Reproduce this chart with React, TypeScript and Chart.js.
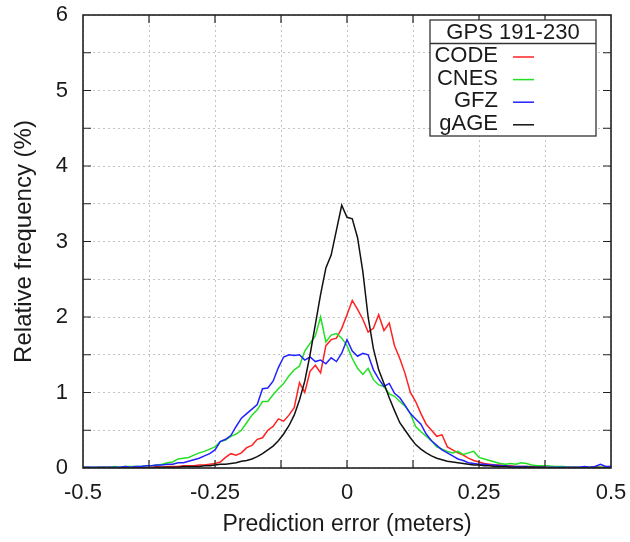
import React, { useEffect, useRef } from 'react';
import { Chart, registerables } from 'chart.js';

Chart.register(...registerables);

// Prediction error bin centres (meters)
const errorBins = [
  -0.50, -0.49, -0.48, -0.47, -0.46, -0.45, -0.44, -0.43, -0.42, -0.41,
  -0.40, -0.39, -0.38, -0.37, -0.36, -0.35, -0.34, -0.33, -0.32, -0.31,
  -0.30, -0.29, -0.28, -0.27, -0.26, -0.25, -0.24, -0.23, -0.22, -0.21,
  -0.20, -0.19, -0.18, -0.17, -0.16, -0.15, -0.14, -0.13, -0.12, -0.11,
  -0.10, -0.09, -0.08, -0.07, -0.06, -0.05, -0.04, -0.03, -0.02, -0.01,
  0.00, 0.01, 0.02, 0.03, 0.04, 0.05, 0.06, 0.07, 0.08, 0.09,
  0.10, 0.11, 0.12, 0.13, 0.14, 0.15, 0.16, 0.17, 0.18, 0.19,
  0.20, 0.21, 0.22, 0.23, 0.24, 0.25, 0.26, 0.27, 0.28, 0.29,
  0.30, 0.31, 0.32, 0.33, 0.34, 0.35, 0.36, 0.37, 0.38, 0.39,
  0.40, 0.41, 0.42, 0.43, 0.44, 0.45, 0.46, 0.47, 0.48, 0.49, 0.50,
];

const codeFreq = [
  0.01, 0.01, 0.00, 0.01, 0.01, 0.01, 0.00, 0.01, 0.01, 0.01,
  0.01, 0.01, 0.01, 0.01, 0.02, 0.01, 0.02, 0.02, 0.02, 0.03,
  0.03, 0.03, 0.04, 0.04, 0.05, 0.06, 0.08, 0.14, 0.19, 0.17,
  0.20, 0.27, 0.30, 0.38, 0.40, 0.50, 0.55, 0.65, 0.62, 0.70,
  0.80, 1.13, 1.00, 1.28, 1.36, 1.26, 1.62, 1.70, 1.72, 1.85,
  2.03, 2.22, 2.10, 1.97, 1.80, 1.85, 2.03, 1.82, 1.92, 1.62,
  1.45, 1.25, 1.00, 0.88, 0.72, 0.58, 0.50, 0.42, 0.44, 0.28,
  0.24, 0.20, 0.17, 0.13, 0.10, 0.08, 0.06, 0.05, 0.04, 0.04,
  0.03, 0.03, 0.02, 0.02, 0.02, 0.02, 0.01, 0.01, 0.01, 0.02,
  0.01, 0.01, 0.01, 0.01, 0.01, 0.01, 0.01, 0.02, 0.01, 0.01, 0.02,
];

const cnesFreq = [
  0.01, 0.01, 0.01, 0.01, 0.01, 0.01, 0.02, 0.01, 0.02, 0.02,
  0.02, 0.02, 0.03, 0.03, 0.04, 0.05, 0.07, 0.08, 0.12, 0.13,
  0.14, 0.17, 0.20, 0.22, 0.25, 0.28, 0.35, 0.37, 0.42, 0.45,
  0.50, 0.60, 0.70, 0.77, 0.88, 0.88, 0.97, 1.05, 1.12, 1.22,
  1.30, 1.35, 1.55, 1.65, 1.75, 2.00, 1.67, 1.76, 1.78, 1.72,
  1.62, 1.45, 1.32, 1.24, 1.32, 1.17, 1.10, 1.08, 0.98, 0.95,
  0.88, 0.82, 0.72, 0.55, 0.48, 0.42, 0.36, 0.28, 0.25, 0.22,
  0.20, 0.22, 0.18, 0.20, 0.22, 0.14, 0.12, 0.10, 0.08, 0.06,
  0.05, 0.06, 0.05, 0.07, 0.06, 0.04, 0.03, 0.03, 0.03, 0.02,
  0.02, 0.02, 0.01, 0.01, 0.01, 0.01, 0.01, 0.01, 0.01, 0.01, 0.01,
];

const gfzFreq = [
  0.01, 0.01, 0.01, 0.01, 0.01, 0.01, 0.01, 0.01, 0.02, 0.01,
  0.02, 0.02, 0.03, 0.03, 0.04, 0.04, 0.05, 0.05, 0.07, 0.07,
  0.09, 0.11, 0.13, 0.16, 0.19, 0.24, 0.35, 0.38, 0.43, 0.55,
  0.66, 0.72, 0.78, 0.84, 1.05, 1.06, 1.15, 1.33, 1.47, 1.50,
  1.49, 1.50, 1.43, 1.47, 1.41, 1.43, 1.38, 1.46, 1.41, 1.52,
  1.70, 1.55, 1.48, 1.52, 1.50, 1.30, 1.18, 1.08, 1.12, 0.99,
  0.93, 0.83, 0.72, 0.65, 0.58, 0.45, 0.36, 0.30, 0.24, 0.20,
  0.16, 0.12, 0.10, 0.07, 0.06, 0.05, 0.05, 0.04, 0.04, 0.03,
  0.03, 0.02, 0.02, 0.02, 0.02, 0.01, 0.01, 0.01, 0.01, 0.01,
  0.01, 0.01, 0.01, 0.01, 0.01, 0.02, 0.01, 0.02, 0.05, 0.02, 0.02,
];

const gageFreq = [
  0.00, 0.00, 0.00, 0.00, 0.00, 0.00, 0.00, 0.00, 0.00, 0.00,
  0.00, 0.00, 0.00, 0.00, 0.01, 0.01, 0.01, 0.01, 0.01, 0.02,
  0.02, 0.02, 0.02, 0.03, 0.03, 0.04, 0.05, 0.05, 0.06, 0.07,
  0.09, 0.10, 0.12, 0.15, 0.19, 0.24, 0.29, 0.36, 0.45, 0.56,
  0.70, 0.90, 1.15, 1.50, 1.90, 2.30, 2.65, 2.82, 3.15, 3.48,
  3.32, 3.30, 3.05, 2.60, 2.00, 1.58, 1.30, 1.12, 0.93, 0.76,
  0.60, 0.50, 0.40, 0.31, 0.25, 0.20, 0.16, 0.13, 0.11, 0.09,
  0.08, 0.07, 0.06, 0.05, 0.04, 0.04, 0.03, 0.03, 0.02, 0.02,
  0.02, 0.01, 0.01, 0.01, 0.01, 0.01, 0.01, 0.01, 0.00, 0.00,
  0.00, 0.00, 0.00, 0.00, 0.00, 0.00, 0.00, 0.00, 0.00, 0.00, 0.00,
];

const seriesNames = ['CODE', 'CNES', 'GFZ', 'gAGE'];
const seriesColors = ['#ff2222', '#22e022', '#2222ff', '#111111'];
const seriesValues = [codeFreq, cnesFreq, gfzFreq, gageFreq];
const legendTitle = 'GPS 191-230';
const xAxisTitle = 'Prediction error (meters)';
const yAxisTitle = 'Relative frequency (%)';

const FONT = '"Liberation Sans", Arial, Helvetica, sans-serif';
const TEXT = '#1a1a1a';

const noEdgePadding = (s: any) => {
  s.paddingTop = 0;
  s.paddingBottom = 0;
  s.paddingLeft = 0;
  s.paddingRight = 0;
};

const framePlugin = {
  id: 'frameAndLegend',
  afterDraw(chart: any) {
    const { ctx, chartArea: a, scales } = chart;
    const xs = scales.x;
    const ys = scales.y;
    ctx.save();
    // inward ticks on all four sides
    ctx.strokeStyle = '#222';
    ctx.lineWidth = 1.2;
    const tl = 8;
    ctx.beginPath();
    xs.ticks.forEach((t: any) => {
      const px = xs.getPixelForValue(t.value);
      if (px <= a.left + 1 || px >= a.right - 1) return;
      ctx.moveTo(px, a.bottom);
      ctx.lineTo(px, a.bottom - tl);
      ctx.moveTo(px, a.top);
      ctx.lineTo(px, a.top + tl);
    });
    ys.ticks.forEach((t: any) => {
      const py = ys.getPixelForValue(t.value);
      if (py <= a.top + 1 || py >= a.bottom - 1) return;
      ctx.moveTo(a.left, py);
      ctx.lineTo(a.left + tl, py);
      ctx.moveTo(a.right, py);
      ctx.lineTo(a.right - tl, py);
    });
    ctx.stroke();
    // frame
    ctx.lineWidth = 1.6;
    ctx.strokeStyle = '#222';
    ctx.strokeRect(a.left, a.top, a.right - a.left, a.bottom - a.top);

    // legend box
    const bl = a.left + 347;
    const br = a.right - 15;
    const bt = a.top + 5;
    const bb = a.top + 121;
    ctx.fillStyle = '#ffffff';
    ctx.fillRect(bl, bt, br - bl, bb - bt);
    ctx.lineWidth = 1.3;
    ctx.strokeStyle = '#333';
    ctx.strokeRect(bl, bt, br - bl, bb - bt);
    const sep = a.top + 28.5;
    ctx.beginPath();
    ctx.moveTo(bl, sep);
    ctx.lineTo(br, sep);
    ctx.stroke();
    ctx.fillStyle = TEXT;
    ctx.font = `22px ${FONT}`;
    ctx.textBaseline = 'middle';
    ctx.textAlign = 'center';
    ctx.fillText(legendTitle, (bl + br) / 2, a.top + 18);
    ctx.textAlign = 'right';
    seriesNames.forEach((name, i) => {
      const cy = a.top + 41 + i * 22.6;
      ctx.fillStyle = TEXT;
      ctx.fillText(name, bl + 68, cy);
      ctx.strokeStyle = seriesColors[i];
      ctx.lineWidth = 1.5;
      ctx.beginPath();
      ctx.moveTo(bl + 83, cy + 1);
      ctx.lineTo(bl + 104, cy + 1);
      ctx.stroke();
    });
    ctx.restore();
  },
};

export default function App() {
  const canvasRef = useRef<HTMLCanvasElement | null>(null);

  useEffect(() => {
    if (!canvasRef.current) return;
    const datasets = seriesNames.map((name, i) => ({
      label: name,
      data: errorBins.map((x, j) => ({ x, y: seriesValues[i][j] })),
      borderColor: seriesColors[i],
      backgroundColor: seriesColors[i],
      borderWidth: 1.5,
      pointRadius: 0,
      tension: 0,
      fill: false,
      order: seriesNames.length - i,
    }));

    const chart = new Chart(canvasRef.current, {
      type: 'line',
      data: { datasets },
      plugins: [framePlugin],
      options: {
        animation: false,
        responsive: false,
        maintainAspectRatio: false,
        layout: { padding: { top: 15, right: 19, left: 0, bottom: 0 } },
        plugins: {
          legend: { display: false },
          tooltip: { enabled: false },
        },
        scales: {
          x: {
            type: 'linear',
            min: -0.5,
            max: 0.5,
            afterFit: (s: any) => {
              s.height = 74;
              noEdgePadding(s);
            },
            ticks: {
              stepSize: 0.125,
              autoSkip: false,
              maxRotation: 0,
              padding: 12,
              color: TEXT,
              font: { family: FONT, size: 22 },
              callback: (v: any) => {
                const n = Number(v);
                return Math.abs(n * 4 - Math.round(n * 4)) < 1e-9 ? String(Math.round(n * 100) / 100) : '';
              },
            },
            grid: { color: '#c4c4c4', lineWidth: 1, drawTicks: false },
            border: { display: false, dash: [2, 3] },
            title: {
              display: true,
              text: xAxisTitle,
              color: TEXT,
              font: { family: FONT, size: 23 },
              padding: { top: 4, bottom: 4 },
            },
          },
          y: {
            type: 'linear',
            min: 0,
            max: 6,
            afterFit: (s: any) => {
              s.width = 83;
              noEdgePadding(s);
            },
            ticks: {
              stepSize: 0.5,
              autoSkip: false,
              padding: 15,
              color: TEXT,
              font: { family: FONT, size: 22 },
              callback: (v: any) => {
                const n = Number(v);
                return Number.isInteger(n) ? String(n) : '';
              },
            },
            grid: { color: '#c4c4c4', lineWidth: 1, drawTicks: false },
            border: { display: false, dash: [2, 3] },
            title: {
              display: true,
              text: yAxisTitle,
              color: TEXT,
              font: { family: FONT, size: 24 },
              padding: { top: 10, bottom: 4 },
            },
          },
        },
      },
    });
    return () => chart.destroy();
  }, []);

  return (
    <div style={{ position: 'fixed', left: 0, top: 0, width: 630, height: 542, background: '#fff' }}>
      <canvas ref={canvasRef} width={630} height={542} style={{ display: 'block' }} />
    </div>
  );
}
